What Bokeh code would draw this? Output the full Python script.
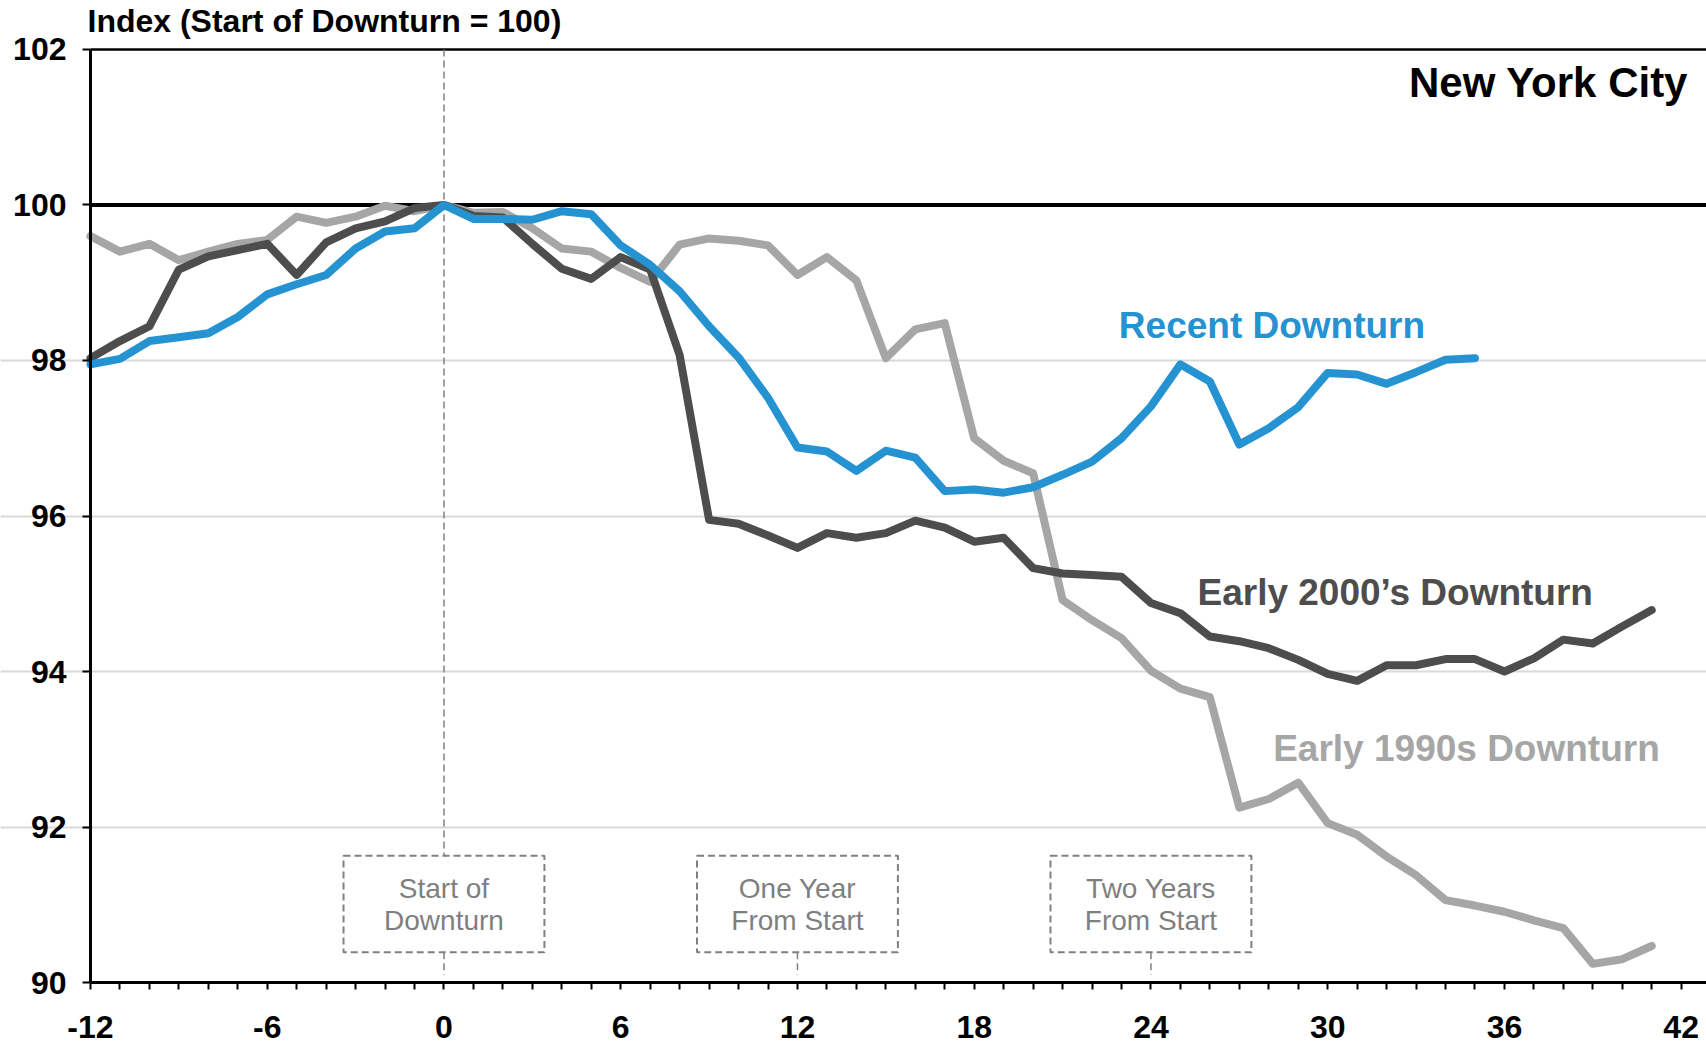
from bokeh.plotting import figure
from bokeh.models import Label, FixedTicker, Range1d
from bokeh.embed import file_html
from bokeh.resources import INLINE
from bokeh.core.properties import value

# ---------------- data ----------------
months_all = list(range(-12, 42))
months_recent = list(range(-12, 36))

recent = [97.95, 98.02, 98.25, 98.30, 98.35, 98.56, 98.85, 98.98, 99.10, 99.44, 99.66, 99.70,
          100.0, 99.82, 99.82, 99.81, 99.92, 99.88, 99.48, 99.23, 98.89, 98.44, 98.04, 97.52,
          96.88, 96.83, 96.58, 96.84, 96.75, 96.32, 96.34, 96.30, 96.37, 96.53, 96.70, 97.00,
          97.41, 97.95, 97.73, 96.92, 97.13, 97.40, 97.84, 97.82, 97.70, 97.85, 98.01, 98.03]

early2000s = [98.03, 98.25, 98.44, 99.17, 99.34, 99.42, 99.50, 99.10, 99.52, 99.70, 99.79, 99.96,
              100.0, 99.86, 99.84, 99.50, 99.18, 99.05, 99.33, 99.17, 98.07, 95.95, 95.90, 95.75,
              95.59, 95.78, 95.72, 95.78, 95.94, 95.85, 95.67, 95.72, 95.33, 95.26, 95.24, 95.22,
              94.88, 94.75, 94.45, 94.39, 94.30, 94.15, 93.97, 93.88, 94.08, 94.08, 94.16, 94.16,
              94.00, 94.17, 94.41, 94.36, 94.58, 94.79]

early1990s = [99.60, 99.40, 99.50, 99.29, 99.40, 99.50, 99.55, 99.85, 99.77, 99.85, 99.99, 99.92,
              100.0, 99.90, 99.91, 99.70, 99.44, 99.40, 99.19, 99.01, 99.49, 99.57, 99.54, 99.48,
              99.10, 99.33, 99.03, 98.03, 98.40, 98.48, 97.00, 96.71, 96.55, 94.92, 94.66, 94.43,
              94.01, 93.78, 93.67, 92.25, 92.36, 92.57, 92.05, 91.90, 91.62, 91.38, 91.06, 90.99,
              90.91, 90.80, 90.70, 90.24, 90.30, 90.47]

y_ticks = [90, 92, 94, 96, 98, 100, 102]
grid_ticks = [92, 94, 96, 98]
x_label_ticks = [-12, -6, 0, 6, 12, 18, 24, 30, 36, 42]
x_all_ticks = list(range(-12, 43))

marker_months = [0, 12, 24]
marker_line1 = ["Start of", "One Year", "Two Years"]
marker_line2 = ["Downturn", "From Start", "From Start"]

series_names = ["Recent Downturn", "Early 2000\u2019s Downturn", "Early 1990s Downturn"]

# ---------------- styles ----------------
BLUE = "#2593D1"
DARK = "#4D4D4D"
LIGHT = "#A6A6A6"
BOXGRAY = "#808080"
FONT = "Liberation Sans"

X0, X1 = -12, 42.86      # visible axis extent
Y0, Y1 = 90, 102

p = figure(width=1706, height=1045, title=None,
           x_range=Range1d(-15.055, X1), y_range=Range1d(89.19, 102.63),
           output_backend="svg", toolbar_location=None,
           min_border=0, min_border_left=0, min_border_right=0,
           min_border_top=0, min_border_bottom=0)
p.outline_line_color = None
p.background_fill_color = "white"
p.border_fill_color = "white"

# grid
p.xgrid.visible = False
p.ygrid.ticker = FixedTicker(ticks=grid_ticks)
p.ygrid.bounds = (X0, X1)
p.ygrid.grid_line_color = "#D9D9D9"
p.ygrid.grid_line_width = 2

# y axis (drawn at x = -12 inside the frame)
p.yaxis.fixed_location = X0
p.yaxis.ticker = FixedTicker(ticks=y_ticks)
p.yaxis.bounds = (Y0, Y1)
p.yaxis.axis_line_color = "black"
p.yaxis.axis_line_width = 3
p.yaxis.major_tick_out = 8
p.yaxis.major_tick_in = 0
p.yaxis.major_tick_line_width = 2
p.yaxis.minor_tick_line_color = None
p.yaxis.major_label_text_font = FONT
p.yaxis.major_label_text_font_style = "bold"
p.yaxis.major_label_text_font_size = "32px"
p.yaxis.major_label_text_color = "black"
p.yaxis.major_label_standoff = 16

# x axis (drawn at y = 90 inside the frame), a tick every month, labels every 6
p.xaxis.fixed_location = Y0
p.xaxis.ticker = FixedTicker(ticks=x_all_ticks)
p.xaxis.bounds = (X0, X1)
p.xaxis.axis_line_color = "black"
p.xaxis.axis_line_width = 3
p.xaxis.major_tick_out = 7
p.xaxis.major_tick_in = 0
p.xaxis.major_tick_line_width = 2
p.xaxis.major_tick_line_color = "black"
p.xaxis.minor_tick_line_color = None
p.xaxis.major_label_text_font = FONT
p.xaxis.major_label_text_font_style = "bold"
p.xaxis.major_label_text_font_size = "32px"
p.xaxis.major_label_text_color = "black"
p.xaxis.major_label_standoff = 26
p.xaxis.major_label_overrides = {t: (str(t) if t in x_label_ticks else "") for t in x_all_ticks}

# reference lines (start-of-downturn level and top border)
ref_levels = [100, Y1]
p.segment(x0=[X0, X0], y0=ref_levels, x1=[X1, X1], y1=ref_levels,
          line_color="black", line_width=[4, 2.5])

# marker boxes and dashed lines
half_w = 3.41
box_top = 91.63
box_bot = 90.39
p.segment(x0=marker_months[:1], y0=[Y1], x1=marker_months[:1], y1=[box_top],
          line_color=BOXGRAY, line_width=1.5, line_dash="7 4")
p.segment(x0=marker_months, y0=[box_bot] * 3, x1=marker_months, y1=[90.1] * 3,
          line_color=BOXGRAY, line_width=1.5, line_dash="7 4")
p.quad(left=[m - half_w for m in marker_months], right=[m + half_w for m in marker_months],
       top=[box_top] * 3, bottom=[box_bot] * 3,
       fill_color=None, line_color=BOXGRAY, line_width=2, line_dash="7 4")
p.text(x=marker_months, y=[91.21] * 3, text=marker_line1, text_align="center",
       text_baseline="alphabetic", text_font=value(FONT), text_font_size="28px",
       text_color="#7F7F7F")
p.text(x=marker_months, y=[90.80] * 3, text=marker_line2, text_align="center",
       text_baseline="alphabetic", text_font=value(FONT), text_font_size="28px",
       text_color="#7F7F7F")

# series
p.line(months_all, early1990s, line_color=LIGHT, line_width=8, line_join="round", line_cap="round")
p.line(months_all, early2000s, line_color=DARK, line_width=8, line_join="round", line_cap="round")
p.line(months_recent, recent, line_color=BLUE, line_width=8, line_join="round", line_cap="round")

# series labels
for name, col, x, y in [(series_names[0], BLUE, 22.91, 98.45),
                        (series_names[1], DARK, 25.58, 95.02),
                        (series_names[2], LIGHT, 28.15, 93.01)]:
    p.add_layout(Label(x=x, y=y, text=name, text_color=col, text_font=FONT,
                       text_font_style="bold", text_font_size="37px",
                       text_align="left", text_baseline="alphabetic"))

p.add_layout(Label(x=42.24, y=101.57, text="New York City", text_color="black", text_font=FONT,
                   text_font_style="bold", text_font_size="42px", text_align="right",
                   text_baseline="alphabetic"))

p.add_layout(Label(x=X0, y=Y1, x_offset=-3, y_offset=28, text="Index (Start of Downturn = 100)",
                   text_color="black", text_font=FONT, text_font_style="bold",
                   text_font_size="32px", text_align="left", text_baseline="alphabetic"))

open("out.html", "w").write(file_html(p, INLINE))
